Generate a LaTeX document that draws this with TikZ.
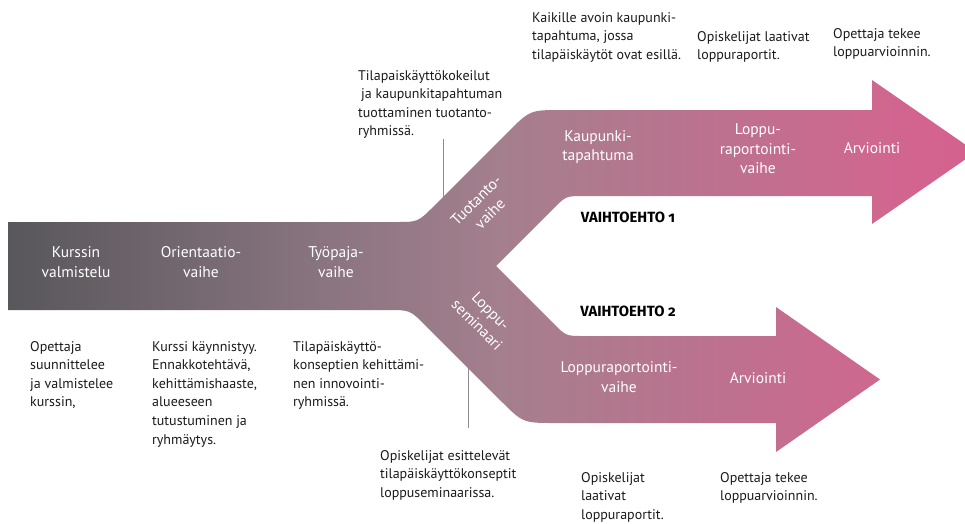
\documentclass[tikz,border=0pt]{standalone}
\usepackage{fontspec}
\setmainfont{PT Sans}
\newfontfamily\altfont[Numbers=OldStyle]{Fira Sans}
\usepackage{xcolor}
\usepackage{tikz}
\definecolor{flowGrey}{HTML}{58575B}
\definecolor{flowDusk}{HTML}{8A7580}
\definecolor{flowMauve}{HTML}{A47F8E}
\definecolor{flowRose}{HTML}{CE688F}
\definecolor{flowPink}{HTML}{D6608F}
\definecolor{leaderGrey}{HTML}{8C8C8C}
\definecolor{noteBlack}{HTML}{1A1A1A}
\pgfdeclarehorizontalshading{flowband}{100bp}{color(0bp)=(flowGrey); color(25bp)=(flowGrey); color(41.6bp)=(flowDusk); color(50.4bp)=(flowMauve); color(69.5bp)=(flowRose); color(75bp)=(flowPink); color(100bp)=(flowPink)}
\tikzstyle{flowfill} = [shading=flowband]
\tikzstyle{phase} = [text=white, align=center, inner sep=0pt, font=\fontsize{15.5}{19.5}\selectfont]
\tikzstyle{note} = [text=noteBlack, align=left, anchor=north west, inner sep=0pt, font=\fontsize{14}{18.6}\selectfont]
\tikzstyle{altlabel} = [text=black, inner sep=0pt, font=\altfont\fontsize{14.8}{17}\selectfont\bfseries]
\tikzstyle{leader} = [draw=leaderGrey, line width=1pt]

\begin{document}
\begin{tikzpicture}[x=1pt, y=-1pt]
      \useasboundingbox (0,0) rectangle (965,523);
      % notes above the band
      \node (noteTuot) [note] at (358,70) {Tilapaiskäyttökokeilut\\\hspace{3pt}ja kaupunkitapahtuman\\tuottaminen tuotanto-\\ryhmissä.};
      \node (noteKaup) [note] at (532,12) {Kaikille avoin kaupunki-\\tapahtuma, jossa\\tilapäiskäytöt ovat esillä.};
      \node (noteRap1) [note] at (697,31) {Opiskelijat laativat\\loppuraportit.};
      \node (noteArv1) [note] at (833,28) {Opettaja tekee\\loppuarvioinnin.};
      % notes below the band
      \node (noteValm) [note] at (30,341) {Opettaja\\suunnittelee\\ja valmistelee\\kurssin,};
      \node (noteOrient) [note] at (152,341) {Kurssi käynnistyy.\\Ennakkotehtävä,\\kehittämishaaste,\\alueeseen\\tutustuminen ja\\ryhmäytys.};
      \node (noteTyo) [note] at (293,341) {Tilapäiskäyttö-\\konseptien kehittämi-\\nen innovointi-\\ryhmissä.};
      \node (noteSem) [note] at (380,450) {Opiskelijat esittelevät\\tilapäiskäyttökonseptit\\loppuseminaarissa.};
      \node (noteRap2) [note] at (581,472) {Opiskelijat\\laativat\\loppuraportit.};
      \node (noteArv2) [note] at (720,472) {Opettaja tekee\\loppuarvioinnin.};
      % leader lines sit behind the band
      \coordinate (tuotFoot) at (443,205);
      \coordinate (semTop) at (468,360);
      \coordinate (semFoot) at (468,428);
      \draw [leader] (noteTuot.south -| tuotFoot) -- (tuotFoot);
      \draw [leader] (semTop) -- (semFoot);
      % the band: trunk, two branches, two arrows
      \shade[flowfill] (8,222) -- (396,222) .. controls (418,222) .. (433.6,206.4)
            -- (507.4,132.6) .. controls (530,110) .. (562,110)
            -- (872,110) -- (872,80) -- (976,152) -- (872,224) -- (872,196)
            -- (584,196) .. controls (566,196) .. (553.3,208.7)
            -- (496,266)
            -- (553.3,323.3) .. controls (566,336) .. (584,336)
            -- (776,336) -- (776,307) -- (880,379.5) -- (776,452) -- (776,423)
            -- (555,423) .. controls (523,423) .. (500.4,400.4)
            -- (425.6,325.6) .. controls (410,310) .. (388,310)
            -- (8,310) -- cycle;
      \node (valm) [phase] at (76,262) {Kurssin\\valmistelu};
      \node (orient) [phase] at (201,262) {Orientaatio-\\vaihe};
      \node (tyo) [phase] at (336,262) {Työpaja-\\vaihe};
      \node (tuot) [phase, rotate=45] at (483,207) {Tuotanto-\\vaihe};
      \node (sem) [phase, rotate=-45] at (484,318) {Loppu-\\seminaari};
      \node (kaup) [phase] at (598,147) {Kaupunki-\\tapahtuma};
      \node (rap1) [phase] at (758,149) {Loppu-\\raportointi-\\vaihe};
      \node (arv1) [phase] at (872,148) {Arviointi};
      \node (rap2) [phase] at (619,377) {Loppuraportointi-\\vaihe};
      \node (arv2) [phase] at (758,378) {Arviointi};
      \node (alt1) [altlabel] at (628,217) {VAIHTOEHTO 1};
      \node (alt2) [altlabel] at (628,311) {VAIHTOEHTO 2};
    \end{tikzpicture}
\end{document}
